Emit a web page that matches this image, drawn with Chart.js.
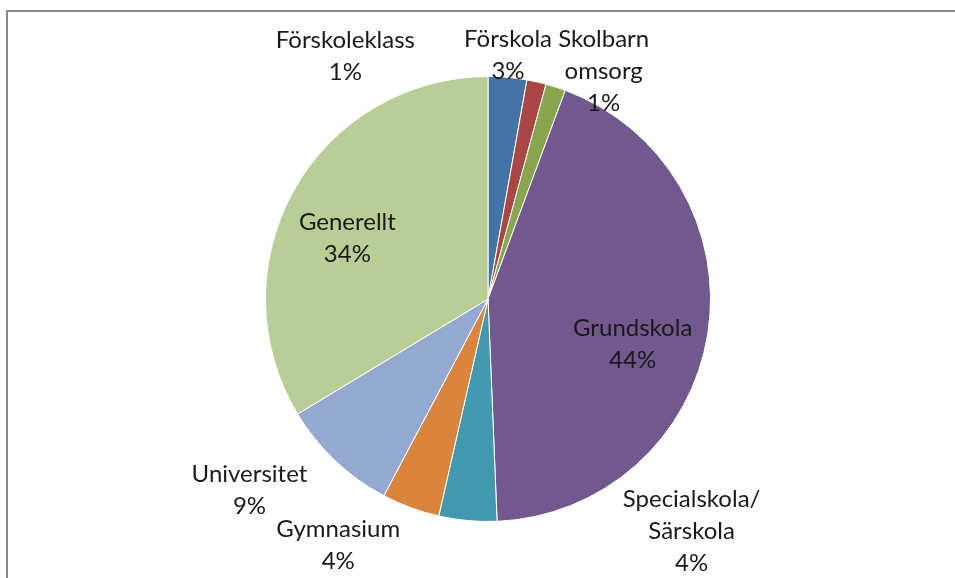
<!DOCTYPE html>
<html>
<head>
<meta charset="utf-8">
<script src="https://cdn.jsdelivr.net/npm/chart.js@4/dist/chart.umd.min.js"></script>
<style>
  html, body { margin: 0; padding: 0; background: #fff; }
  body { width: 955px; height: 578px; position: relative; overflow: hidden; }
  #frame { position: absolute; left: 6px; top: 10px; width: 1000px; height: 700px;
           border-left: 2px solid #878787; border-top: 2px solid #878787; }
  #wrap { position: absolute; left: 0; top: 0; width: 955px; height: 578px; }
</style>
</head>
<body>
<div id="frame"></div>
<div id="wrap"><canvas id="c" width="955" height="578"></canvas></div>
<script>
// Data
const categories = ["Förskola", "Förskoleklass", "Skolbarnomsorg", "Grundskola",
                    "Specialskola/Särskola", "Gymnasium", "Universitet", "Generellt"];
const labelLines = [["Förskola"], ["Förskoleklass"], ["Skolbarn", "omsorg"], ["Grundskola"],
                    ["Specialskola/", "Särskola"], ["Gymnasium"], ["Universitet"], ["Generellt"]];
const shares = [2.8, 1.4, 1.45, 43.7, 4.2, 4.2, 8.6, 33.65];
const colors = ["#4572A7", "#AA4643", "#89A54E", "#71588F", "#4198AF", "#DB843D", "#93A9CF", "#B9CD96"];

// label anchor offsets, in units of pie radius from centre
const labelOffsets = [[0.09, -1.094], [-0.641, -1.09], [0.52, -1.022], [0.65, 0.202],
                      [0.915, 1.045], [-0.673, 1.108], [-1.072, 0.861], [-0.632, -0.274]];

const labelPlugin = {
  id: 'pieLabels',
  afterDraw(chart) {
    const ctx = chart.ctx;
    const meta = chart.getDatasetMeta(0);
    const total = shares.reduce((a, b) => a + b, 0);
    ctx.save();
    ctx.font = '24px Lato, "Open Sans", sans-serif';
    ctx.fillStyle = '#1a1a1a';
    ctx.textAlign = 'center';
    ctx.textBaseline = 'middle';
    const lh = 32;
    meta.data.forEach((arc, i) => {
      const r = arc.outerRadius;
      const cx = arc.x + labelOffsets[i][0] * r;
      const cy = arc.y + labelOffsets[i][1] * r;
      const lines = labelLines[i].concat([Math.round(shares[i] / total * 100) + '%']);
      const y0 = cy - (lines.length - 1) * lh / 2;
      lines.forEach((t, k) => ctx.fillText(t, cx, y0 + k * lh));
    });
    ctx.restore();
  }
};

new Chart(document.getElementById('c'), {
  type: 'pie',
  data: {
    labels: categories,
    datasets: [{
      data: shares,
      backgroundColor: colors,
      borderColor: '#ffffff',
      borderWidth: 1
    }]
  },
  options: {
    responsive: false,
    animation: false,
    layout: { padding: { left: 265, right: 244, top: 76, bottom: 56 } },
    plugins: { legend: { display: false }, tooltip: { enabled: false } }
  },
  plugins: [labelPlugin]
});
</script>
</body>
</html>
